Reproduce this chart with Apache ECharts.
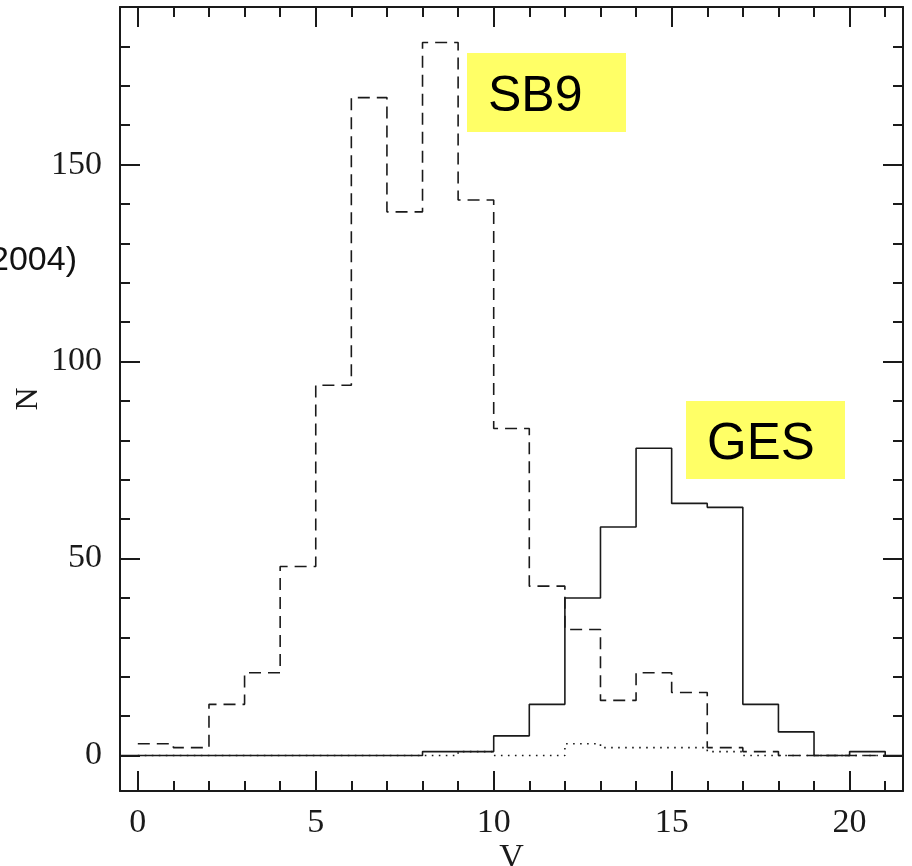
<!DOCTYPE html>
<html>
<head>
<meta charset="utf-8">
<script src="https://cdn.jsdelivr.net/npm/echarts@6/dist/echarts.min.js"></script>
<style>
  html, body { margin: 0; padding: 0; background: #fff; }
  #chart { width: 912px; height: 866px; }
</style>
</head>
<body>
<div id="chart"></div>
<script>
// Histogram of V magnitudes: SB9 (dashed), GES (solid), overlap subset (dotted)
const binStart = 0;            // left edge of the first 1-mag bin
const binWidth = 1;
const sb9Counts   = [3, 2, 13, 21, 48, 94, 167, 138, 181, 141, 83, 43, 32, 14, 21, 16, 2, 1, 0, 0, 0];
const gesCounts   = [0, 0, 0, 0, 0, 0, 0, 0, 1, 1, 5, 13, 40, 58, 78, 64, 63, 13, 6, 0, 1];
const otherCounts = [0, 0, 0, 0, 0, 0, 0, 0, 0, 1, 0, 0, 3, 2, 2, 2, 1, 0, 0, 0, 0];

const xRange = [-0.5, 21.5];
const yRange = [-9, 190];
const xMajorTicks = [0, 5, 10, 15, 20];
const xMinorTicks = [0,1,2,3,4,5,6,7,8,9,10,11,12,13,14,15,16,17,18,19,20,21];
const yMajorTicks = [0, 50, 100, 150];
const yMinorTicks = [0,10,20,30,40,50,60,70,80,90,100,110,120,130,140,150,160,170,180];

// Step outline: one point per bin left edge, closed at the last right edge
function steps(counts, padToFrame) {
  const pts = counts.map((c, i) => [binStart + i * binWidth, c]);
  const end = binStart + counts.length * binWidth;
  pts.push([end, 0]);
  if (padToFrame) {
    pts.unshift([xRange[0], 0]);
    pts.push([xRange[1], 0]);
  }
  return pts;
}

const ink = '#1a1a1a';
const tickFont = { fontFamily: 'Liberation Serif', fontSize: 34, color: ink };

function xAx(pos, ticks, len, showLine, labels) {
  return {
    type: 'value', position: pos, min: xRange[0], max: xRange[1],
    axisLine: { show: showLine, onZero: false, lineStyle: { color: ink, width: 2 } },
    axisTick: { show: true, inside: true, length: len, customValues: ticks, lineStyle: { color: ink, width: 2 } },
    axisLabel: labels ? Object.assign({ show: true, margin: 15, customValues: labels }, tickFont) : { show: false },
    splitLine: { show: false }
  };
}
function yAx(pos, ticks, len, showLine, labels) {
  return {
    type: 'value', position: pos, min: yRange[0], max: yRange[1],
    axisLine: { show: showLine, onZero: false, lineStyle: { color: ink, width: 2 } },
    axisTick: { show: true, inside: true, length: len, customValues: ticks, lineStyle: { color: ink, width: 2 } },
    axisLabel: labels ? Object.assign({ show: true, margin: 18, customValues: labels }, tickFont) : { show: false },
    splitLine: { show: false }
  };
}

const xAxes = [
  xAx('bottom', xMajorTicks, 20, true, xMajorTicks),
  xAx('bottom', xMinorTicks, 10, false, null),
  xAx('top', xMajorTicks, 20, true, null),
  xAx('top', xMinorTicks, 10, false, null)
];
Object.assign(xAxes[0], {
  name: 'V', nameLocation: 'middle', nameGap: 50, nameMoveOverlap: false,
  nameTextStyle: { fontFamily: 'Liberation Serif', fontSize: 34, color: ink }
});
const yAxes = [
  yAx('left', yMajorTicks, 20, true, yMajorTicks),
  yAx('left', yMinorTicks, 10, false, null),
  yAx('right', yMajorTicks, 20, true, null),
  yAx('right', yMinorTicks, 10, false, null)
];
Object.assign(yAxes[0], {
  name: 'N', nameLocation: 'middle', nameGap: 75, nameRotate: 90, nameMoveOverlap: false,
  nameTextStyle: { fontFamily: 'Liberation Serif', fontSize: 32, color: ink }
});

const chart = echarts.init(document.getElementById('chart'), null, { renderer: 'canvas' });
chart.setOption({
  animation: false,
  backgroundColor: '#ffffff',
  grid: { left: 120, right: 9, top: 7, bottom: 75, containLabel: false, outerBoundsMode: 'none' },
  xAxis: xAxes,
  yAxis: yAxes,
  series: [
    {
      name: 'SB9', type: 'line', step: 'end', data: steps(sb9Counts, false),
      xAxisIndex: 0, yAxisIndex: 0, symbol: 'none', z: 3,
      lineStyle: { color: ink, width: 1.6, type: [12, 7] }
    },
    {
      name: 'other', type: 'line', step: 'end', data: steps(otherCounts, false),
      xAxisIndex: 0, yAxisIndex: 0, symbol: 'none', z: 2,
      lineStyle: { color: ink, width: 1.6, type: [1.6, 5.4] }
    },
    {
      name: 'GES', type: 'line', step: 'end', data: steps(gesCounts, true),
      xAxisIndex: 0, yAxisIndex: 0, symbol: 'none', z: 4,
      lineStyle: { color: ink, width: 1.6 }
    }
  ],
  graphic: [
    { type: 'text', right: 835, top: 244,
      style: { text: '(2004)', fontFamily: 'Liberation Sans', fontSize: 34, fill: '#111' } },
    { type: 'rect', shape: { x: 467, y: 53, width: 159, height: 79 }, style: { fill: '#ffff66' }, z: 10 },
    { type: 'text', x: 488, y: 72, z: 11,
      style: { text: 'SB9', fontFamily: 'Liberation Sans', fontSize: 50, fill: '#000' } },
    { type: 'rect', shape: { x: 686, y: 401, width: 159, height: 78 }, style: { fill: '#ffff66' }, z: 10 },
    { type: 'text', x: 707, y: 419, z: 11,
      style: { text: 'GES', fontFamily: 'Liberation Sans', fontSize: 51, fill: '#000' } }
  ]
});
</script>
</body>
</html>
